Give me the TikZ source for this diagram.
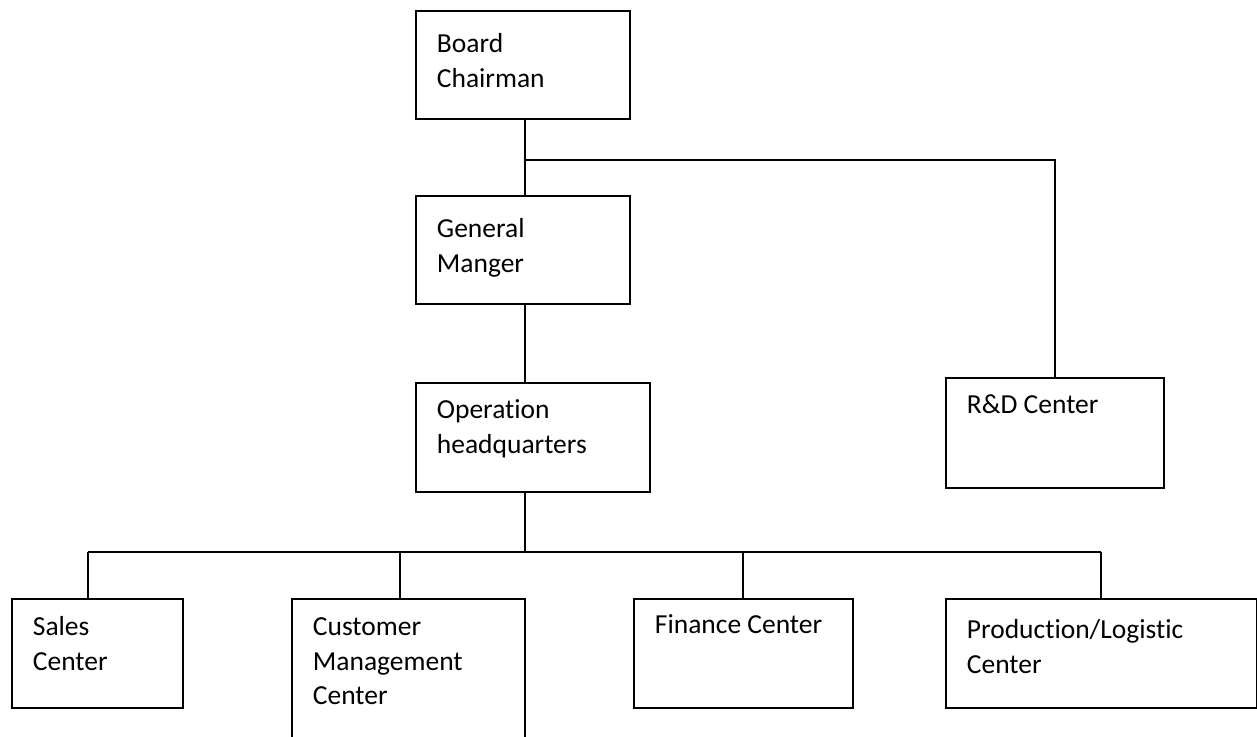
\documentclass[tikz,border=0pt]{standalone}
\usepackage{fontspec}
\setmainfont{Carlito}[Ligatures=CommonOff]
\newcommand{\unitbox}[4]{\parbox[t][#2pt][t]{#1pt}{\raggedright\leftskip=21pt\rule{0pt}{#3pt}#4}}

\begin{document}
\begin{tikzpicture}
  [x=1pt,y=-1pt,line width=1.8pt,
   every node/.style={draw,rectangle,inner sep=0pt,anchor=north west,
     font=\fontsize{27.5}{34.5}\selectfont}]

  \useasboundingbox (0,0) rectangle (1257,736);

  \node (board) at (415,10)  {\unitbox{214}{108}{42}{Board\\Chairman}};
  \node (gm)    at (415,195) {\unitbox{214}{108}{42}{General\\Manger}};
  \node (ops)   at (415,382) {\unitbox{234}{109}{36}{Operation\\headquarters}};
  \node (rd)    at (945,377) {\unitbox{218}{110}{36}{R\&D Center}};
  \node (sales) at (11,598)  {\unitbox{171}{109}{37}{Sales\\Center}};
  \node (cmc)   at (291,598) {\unitbox{233}{160}{37}{Customer\\Management\\Center}};
  \node (fin)   at (633,598) {\unitbox{219}{109}{35}{Finance Center}};
  \node (prod)  at (945,598) {\unitbox{311}{109}{40}{Production/Logistic\\Center}};

  \coordinate (top) at (525,160);
  \coordinate (mid) at (525,552);
  \coordinate (d1) at (88,552);
  \coordinate (d2) at (400,552);
  \coordinate (d3) at (743,552);
  \coordinate (d4) at (1101,552);

  \draw (board.south -| top) -- (gm.north -| top);
  \draw (top) -| (rd.north);
  \draw (gm.south -| top) -- (ops.north -| top);
  \draw (ops.south -| mid) -- (mid);
  \draw (d1) -- (d4);

  \foreach \to/\at in {sales/d1,cmc/d2,fin/d3,prod/d4}
    \draw (\at) -- (\to.north -| \at);

\end{tikzpicture}
\end{document}
